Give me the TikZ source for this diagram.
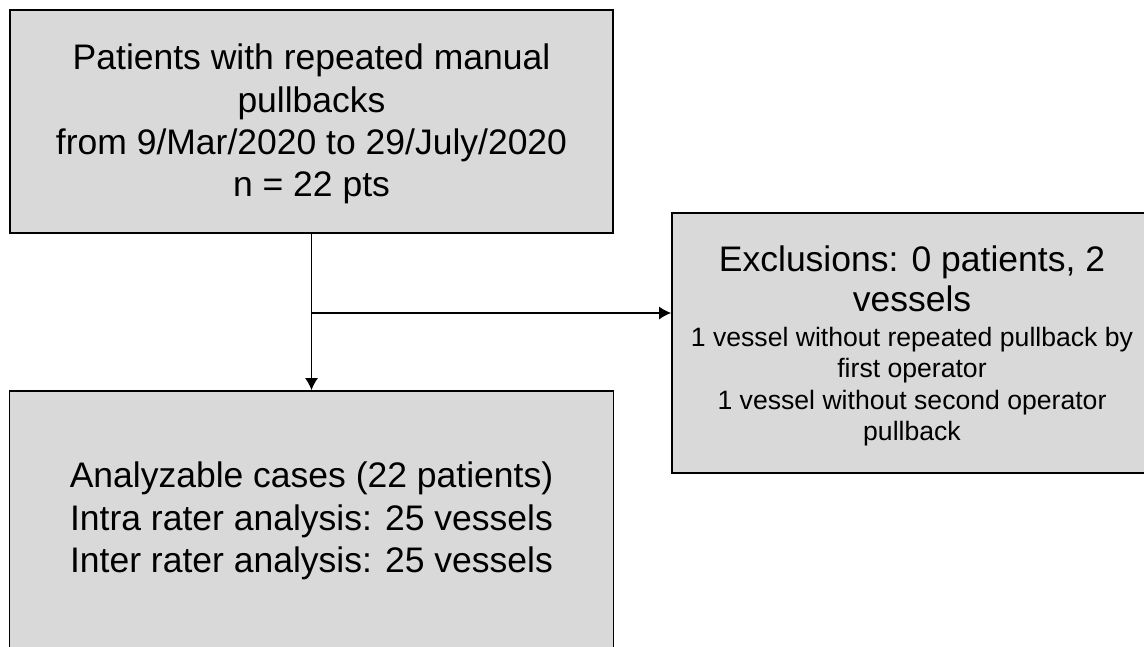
\documentclass[tikz,border=0pt]{standalone}
\usepackage{fontspec}
\setmainfont{Liberation Sans}
\usetikzlibrary{arrows.meta}
\definecolor{boxgray}{HTML}{D9D9D9}
\tikzset{flowbox/.style={draw=black, line width=1.6pt, fill=boxgray, inner sep=0pt},
  boxtext/.style={align=center, inner sep=0pt}}
\newcommand{\bigtxt}{\fontsize{35.5}{42.3}\selectfont\spaceskip=0pt\xspaceskip=0pt}
\newcommand{\smalltxt}{\fontsize{26.6}{31.5}\selectfont\spaceskip=0pt\xspaceskip=0pt}

\begin{document}
\begin{tikzpicture}[>={Latex[length=12pt,width=13pt]},x=1pt,y=-1pt,line width=1.6pt]
\useasboundingbox (0,0) rectangle (1144,646);
% boxes
\node [flowbox, minimum width=603pt, minimum height=223pt] (pts) at (311.5,121.5) {};
\node [boxtext, font=\bigtxt] (ptstext) at (311.5,124) {Patients with repeated manual\\pullbacks\\from 9/Mar/2020 to 29/July/2020\\n = 22 pts};
\node [flowbox, minimum width=480pt, minimum height=260pt] (excl) at (912,343) {};
\node [boxtext, text width=476pt] (excltext) at (912,346) {{\bigtxt\centering Exclusions: 0 patients, 2\\[-2pt]vessels\par}\vspace{3pt}{\smalltxt\centering 1 vessel without repeated pullback by\\first operator\\1 vessel without second operator\\pullback\par}};
\node [flowbox, minimum width=604pt, minimum height=289pt] (cases) at (311.5,535.5) {};
\node [boxtext, font=\bigtxt] (casestext) at (311.5,521) {Analyzable cases (22 patients)\\Intra rater analysis: 25 vessels\\Inter rater analysis: 25 vessels};
% connectors
\coordinate (exclin) at ([yshift=30pt]excl.west);
\coordinate (split) at (pts.south |- exclin);
\draw [->] (pts.south) -- (cases.north);
\draw [->] (split) -- (exclin);
\end{tikzpicture}
\end{document}
